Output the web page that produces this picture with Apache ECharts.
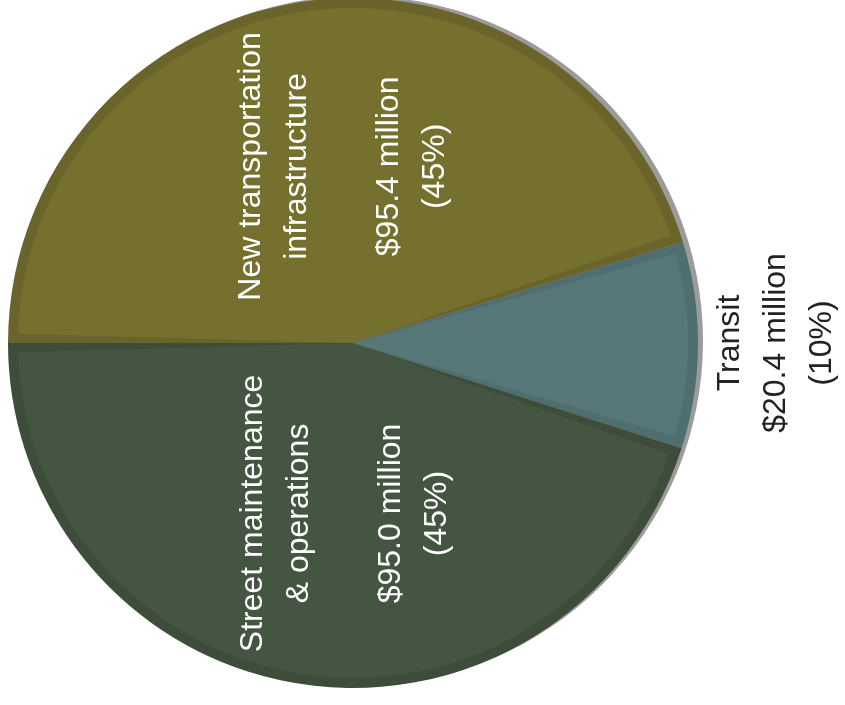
<!DOCTYPE html>
<html>
<head>
<meta charset="utf-8">
<script src="https://cdn.jsdelivr.net/npm/echarts@6/dist/echarts.min.js"></script>
<style>
  html, body { margin: 0; padding: 0; background: #fff; }
  #chart { width: 845px; height: 705px; }
</style>
</head>
<body>
<div id="chart"></div>
<script>
// data ($ million)
const categories = ['New transportation\ninfrastructure', 'Transit', 'Street maintenance\n& operations']
const amounts = [95.4, 20.4, 95.0]
const shares = ['45%', '10%', '45%']
const fillColors = ['#75702e', '#577778', '#445641']
const bandColors = ['#6a642a', '#4e6e70', '#3d4d3a']

// label nudges (pixels, in the rotated label frame: dx = up, dy = right)
const labelNudge = [
  { dx: 8, dy: 15 },
  { dx: 2, dy: 83, align: 'center', verticalAlign: 'middle' },
  { dx: -2, dy: 18 }
]

const myChart = echarts.init(document.getElementById('chart'))

const font = "'Liberation Sans', Arial, sans-serif"
const center = [353, 343]

const option = {
  animation: false,
  series: [
    {
      // grey rim behind the pie
      type: 'pie',
      silent: true,
      center: [358, 341],
      radius: 345,
      label: { show: false },
      labelLine: { show: false },
      data: [{ value: 1, itemStyle: { color: '#9b9b9b' } }],
      z: 1
    },
    {
      // darker band of each slice
      type: 'pie',
      silent: true,
      center: center,
      radius: 345,
      startAngle: 180,
      clockwise: true,
      label: { show: false },
      labelLine: { show: false },
      data: amounts.map((v, i) => ({ value: v, itemStyle: { color: bandColors[i] } })),
      z: 2
    },
    {
      type: 'pie',
      center: center,
      radius: 335,
      startAngle: 180,
      clockwise: true,
      padAngle: 3.2,
      emphasis: { disabled: true },
      labelLine: { show: false, length: 0, length2: 0 },
      label: {
        rotate: 90,
        fontFamily: font,
        fontSize: 32,
        lineHeight: 46
      },
      labelLayout: function (params) {
        return labelNudge[params.dataIndex]
      },
      data: amounts.map((v, i) => {
        const inside = i !== 1
        const text = inside
          ? categories[i] + '\n\n$' + v.toFixed(1) + ' million\n(' + shares[i] + ')'
          : categories[i] + '\n$' + v.toFixed(1) + ' million\n(' + shares[i] + ')'
        return {
          value: v,
          name: categories[i],
          itemStyle: { color: fillColors[i] },
          label: {
            position: inside ? 'inside' : 'outside',
            color: inside ? '#ffffff' : '#222222',
            formatter: text
          }
        }
      }),
      z: 3
    }
  ]
}

myChart.setOption(option)
</script>
</body>
</html>
